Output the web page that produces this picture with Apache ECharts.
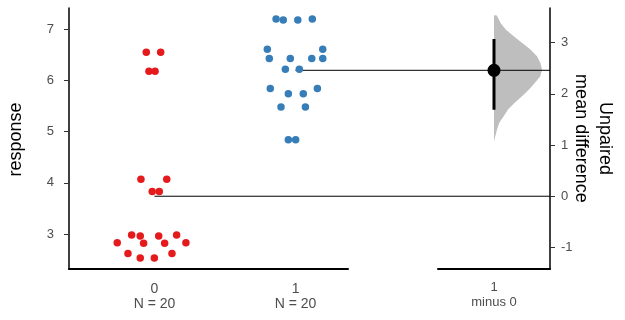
<!DOCTYPE html>
<html><head><meta charset="utf-8">
<script src="https://cdn.jsdelivr.net/npm/echarts@6/dist/echarts.min.js"></script>
<style>html,body{margin:0;padding:0;background:#fff}#c{width:625px;height:320px}</style>
</head><body><div id="c"></div>
<script>
// ---- data ----
const groupNames = ['0', '1'];
const group0 = [6.55, 6.55, 6.18, 6.18, 4.07, 4.07, 3.83, 3.83, 2.98, 2.98,
                2.96, 2.96, 2.83, 2.83, 2.82, 2.82, 2.62, 2.62, 2.53, 2.53];
const group0Swarm = [-0.058, 0.044, -0.039, 0.004, -0.096, 0.087, -0.016, 0.034, -0.162, 0.157,
                     -0.101, 0.030, -0.264, 0.223, -0.077, 0.072, -0.188, 0.124, -0.101, -0.001];
const group1 = [7.20, 7.20, 7.18, 7.18, 6.61, 6.61, 6.43, 6.43, 6.43, 6.43,
                6.22, 6.22, 5.84, 5.84, 5.74, 5.74, 5.48, 5.48, 4.84, 4.84];
const group1Swarm = [-0.138, 0.119, -0.087, 0.016, -0.200, 0.193, -0.186, -0.037, 0.115, 0.193,
                     -0.072, 0.027, -0.179, 0.155, -0.051, 0.055, -0.103, 0.070, -0.051, 0.001];
const leftTicks = [3, 4, 5, 6, 7];
const rightTicks = [-1, 0, 1, 2, 3];
// bootstrap distribution of the mean difference (relative density)
const bootDiff =    [3.535, 3.529, 3.387, 3.256, 3.125, 2.996, 2.865, 2.734, 2.605, 2.475,
                     2.344, 2.215, 2.084, 1.953, 1.824, 1.693, 1.563, 1.434, 1.303, 1.172, 1.074];
const bootDensity = [0.00, 0.06, 0.133, 0.244, 0.41, 0.583, 0.758, 0.896, 0.967, 1.00,
                     0.965, 0.854, 0.729, 0.583, 0.431, 0.292, 0.202, 0.11, 0.0625, 0.027, 0.00];
const ciLow = 1.69, ciHigh = 3.07;

// ---- derived ----
const mean = a => a.reduce((s, v) => s + v, 0) / a.length;
const mean0 = mean(group0), mean1 = mean(group1), meanDiff = mean1 - mean0;
const yMin = 2.316, yMax = 7.414;
const xMin = -0.606, xMax = 1.372, xOverlayMax = 2.805;
const violinWidth = 0.857;
const font = 'Liberation Sans, Arial, sans-serif';
const tickColor = '#4d4d4d';

const chart = echarts.init(document.getElementById('c'), null, {renderer: 'canvas'});
chart.setOption({
  animation: false,
  backgroundColor: '#fff',
  textStyle: {fontFamily: font},
  grid: [
    {left: 69, top: 8, width: 279, height: 261},
    {left: 438, top: 8, width: 112, height: 261},
    {left: 69, top: 8, width: 481, height: 261}
  ],
  xAxis: [
    {gridIndex: 0, type: 'value', min: xMin, max: xMax,
     axisLine: {show: true, onZero: false, lineStyle: {color: '#000', width: 2}},
     axisTick: {show: false}, splitLine: {show: false},
     axisLabel: {customValues: [0, 1], color: tickColor, fontSize: 14, lineHeight: 15, margin: 13,
       fontFamily: font,
       formatter: v => groupNames[v] + '\nN = ' + (v === 0 ? group0.length : group1.length)}},
    {gridIndex: 1, type: 'value', min: 0, max: 2,
     axisLine: {show: true, onZero: false, lineStyle: {color: '#000', width: 2}},
     axisTick: {show: false}, splitLine: {show: false},
     axisLabel: {customValues: [1], color: tickColor, fontSize: 13, lineHeight: 15, margin: 11,
       fontFamily: font,
       formatter: () => groupNames[1] + '\nminus ' + groupNames[0]}},
    {gridIndex: 2, type: 'value', min: xMin, max: xOverlayMax, show: false}
  ],
  yAxis: [
    {gridIndex: 0, type: 'value', min: yMin, max: yMax,
     axisLine: {show: true, onZero: false, lineStyle: {color: '#000', width: 1.5}},
     axisTick: {show: true, customValues: leftTicks, length: 5, lineStyle: {color: '#333'}},
     splitLine: {show: false},
     axisLabel: {customValues: leftTicks, color: tickColor, fontSize: 13, margin: 15, fontFamily: font}},
    {gridIndex: 1, type: 'value', position: 'right', min: yMin - mean0, max: yMax - mean0,
     axisLine: {show: true, onZero: false, lineStyle: {color: '#000', width: 1.5}},
     axisTick: {show: true, customValues: rightTicks, length: 5, lineStyle: {color: '#333'}},
     splitLine: {show: false},
     axisLabel: {customValues: rightTicks, color: tickColor, fontSize: 13, margin: 11, fontFamily: font}},
    {gridIndex: 2, type: 'value', min: yMin, max: yMax, show: false}
  ],
  graphic: [
    {type: 'text', x: 16, y: 139.5, rotation: Math.PI / 2,
     style: {text: 'response', fontSize: 18, fontFamily: font, fill: '#000', align: 'center', verticalAlign: 'middle'}},
    {type: 'text', x: 593, y: 138.5, rotation: -Math.PI / 2,
     style: {text: 'Unpaired\nmean difference', fontSize: 18, lineHeight: 24, fontFamily: font, fill: '#000',
             align: 'center', verticalAlign: 'middle'}}
  ],
  series: [
    {type: 'custom', xAxisIndex: 1, yAxisIndex: 1, z: 1, silent: true,
     data: [[1, meanDiff]],
     renderItem: (params, api) => {
       const pts = bootDiff.map((d, i) => api.coord([1 + bootDensity[i] * violinWidth, d]));
       return {type: 'polygon', shape: {points: pts}, style: {fill: '#bebebe'}};
     }},
    {type: 'line', xAxisIndex: 2, yAxisIndex: 2, z: 2, silent: true, symbol: 'none',
     data: [[0, mean0], [xOverlayMax, mean0]], lineStyle: {color: '#000', width: 1}},
    {type: 'line', xAxisIndex: 2, yAxisIndex: 2, z: 2, silent: true, symbol: 'none',
     data: [[1, mean1], [xOverlayMax, mean1]], lineStyle: {color: '#000', width: 1}},
    {type: 'scatter', xAxisIndex: 0, yAxisIndex: 0, z: 3, silent: true, symbolSize: 7.5,
     itemStyle: {color: '#e41a1c', opacity: 1},
     data: group0.map((v, i) => [0 + group0Swarm[i], v])},
    {type: 'scatter', xAxisIndex: 0, yAxisIndex: 0, z: 3, silent: true, symbolSize: 7.5,
     itemStyle: {color: '#377eb8', opacity: 1},
     data: group1.map((v, i) => [1 + group1Swarm[i], v])},
    {type: 'line', xAxisIndex: 1, yAxisIndex: 1, z: 4, silent: true, symbol: 'none',
     data: [[1, ciLow], [1, ciHigh]], lineStyle: {color: '#000', width: 3}},
    {type: 'scatter', xAxisIndex: 1, yAxisIndex: 1, z: 5, silent: true, symbolSize: 13,
     itemStyle: {color: '#000', opacity: 1},
     data: [[1, meanDiff]]}
  ]
});
</script>
</body></html>
